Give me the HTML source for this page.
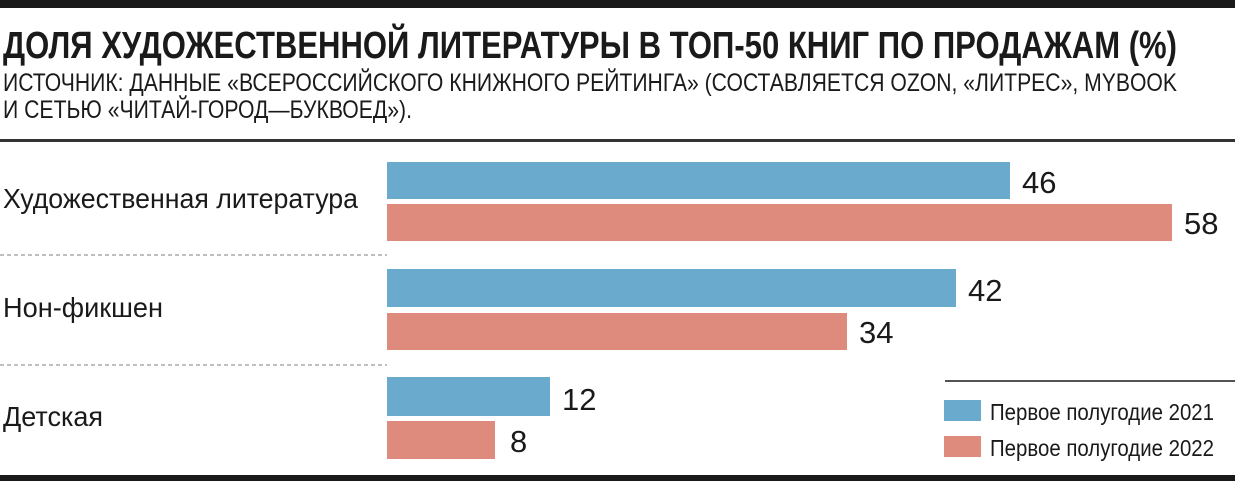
<!DOCTYPE html>
<html><head><meta charset="utf-8"><style>
html,body{margin:0;padding:0;background:#fff;}
svg{display:block;}
text{font-family:"Liberation Sans Narrow","Liberation Sans",sans-serif;fill:#1a1a1a;}
</style></head><body>
<svg width="1235" height="482" viewBox="0 0 1235 482" xmlns="http://www.w3.org/2000/svg">
<rect x="0" y="0" width="1235" height="8" fill="#1a1a1a"/>
<text x="3" y="58" font-size="38" font-weight="bold" textLength="1174" lengthAdjust="spacingAndGlyphs">ДОЛЯ ХУДОЖЕСТВЕННОЙ ЛИТЕРАТУРЫ В ТОП-50 КНИГ ПО ПРОДАЖАМ (%)</text>
<text x="3" y="91" font-size="25" textLength="1174" lengthAdjust="spacingAndGlyphs">ИСТОЧНИК: ДАННЫЕ «ВСЕРОССИЙСКОГО КНИЖНОГО РЕЙТИНГА» (СОСТАВЛЯЕТСЯ OZON, «ЛИТРЕС», MYBOOK</text>
<text x="3" y="118" font-size="25" textLength="409" lengthAdjust="spacingAndGlyphs">И СЕТЬЮ «ЧИТАЙ-ГОРОД—БУКВОЕД»).</text>
<rect x="0" y="139" width="1235" height="3" fill="#333"/>
<line x1="0" y1="255" x2="387" y2="255" stroke="#aaa" stroke-width="1.5" stroke-dasharray="4,3"/>
<line x1="0" y1="365" x2="387" y2="365" stroke="#aaa" stroke-width="1.5" stroke-dasharray="4,3"/>
<g font-size="28">
<text x="3" y="208" textLength="355" lengthAdjust="spacingAndGlyphs">Художественная литература</text>
<text x="3" y="317" textLength="160" lengthAdjust="spacingAndGlyphs">Нон-фикшен</text>
<text x="3" y="426" textLength="100" lengthAdjust="spacingAndGlyphs">Детская</text>
</g>
<g fill="#6aabcd">
<rect x="387" y="162" width="623" height="37"/>
<rect x="387" y="269" width="569" height="38"/>
<rect x="387" y="377" width="163" height="39"/>
</g>
<g fill="#de8b7d">
<rect x="387" y="204" width="785" height="37"/>
<rect x="387" y="313" width="460" height="37"/>
<rect x="387" y="421" width="108" height="38"/>
</g>
<g font-size="31">
<text x="1022" y="193">46</text>
<text x="1184" y="234">58</text>
<text x="968" y="301">42</text>
<text x="859" y="343">34</text>
<text x="562" y="410">12</text>
<text x="510" y="452">8</text>
</g>
<line x1="945" y1="381" x2="1235" y2="381" stroke="#1a1a1a" stroke-width="1.5"/>
<rect x="944" y="400" width="37" height="21" fill="#6aabcd"/>
<rect x="944" y="436" width="37" height="21" fill="#de8b7d"/>
<text x="990" y="420" font-size="23" textLength="224" lengthAdjust="spacingAndGlyphs">Первое полугодие 2021</text>
<text x="990" y="456" font-size="23" textLength="224" lengthAdjust="spacingAndGlyphs">Первое полугодие 2022</text>
<rect x="0" y="475" width="1235" height="6" fill="#1a1a1a"/>
</svg>
</body></html>
